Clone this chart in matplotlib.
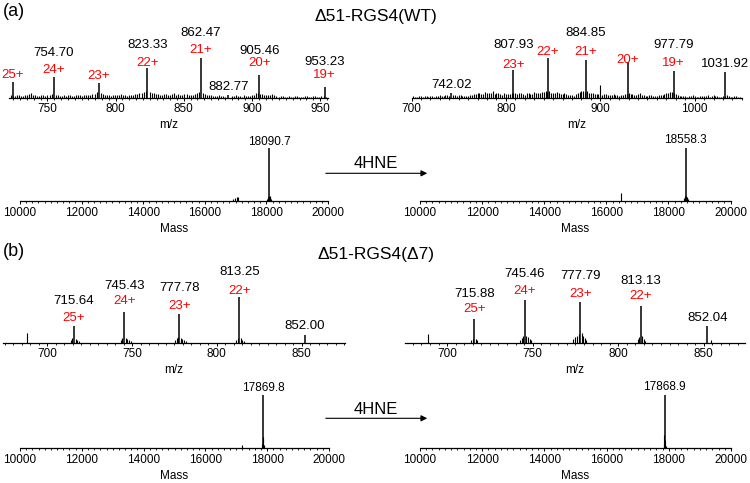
import matplotlib.pyplot as plt
from matplotlib.patches import FancyArrowPatch
from matplotlib.ticker import MultipleLocator

plt.rcParams['font.family'] = ['Liberation Sans', 'DejaVu Sans']

W, H = 750, 483

# (a) WT, ESI m/z spectrum
wt_mz = [724.6, 754.70, 787.5, 823.33, 862.47, 882.77, 905.46, 953.23]
wt_int = [39, 52, 38, 76, 100, 8, 58, 28]
wt_num = ['', '754.70', '', '823.33', '862.47', '882.77', '905.46', '953.23']
wt_chg = ['25+', '24+', '23+', '22+', '21+', '', '20+', '19+']
wt_noise = [(723, 6), (726, 5), (729, 7), (732, 5), (735, 8), (738, 12), (741, 6), (744, 5),
            (747, 7), (750, 6), (753, 9), (756, 8), (759, 5), (762, 6), (765, 7), (768, 5),
            (771, 6), (774, 8), (777, 6), (780, 7), (783, 9), (786, 14), (789, 11), (792, 7),
            (795, 6), (798, 8), (801, 7), (804, 9), (807, 6), (810, 8), (813, 7), (816, 10),
            (819, 13), (822, 16), (825, 14), (828, 11), (831, 9), (834, 8), (837, 10), (840, 7),
            (843, 12), (846, 9), (849, 8), (852, 10), (855, 7), (858, 9), (861, 14), (864, 12),
            (867, 7), (870, 6), (873, 5), (876, 6), (879, 5), (885, 5), (888, 6), (891, 4),
            (894, 7), (897, 5), (900, 6), (903, 12), (906, 10), (909, 8), (912, 6), (915, 9),
            (918, 5), (921, 4), (924, 3), (927, 4), (930, 3), (933, 5), (936, 3), (939, 4),
            (942, 3), (945, 5), (948, 3), (951, 4), (954, 3)]
wt_noise2 = [(724.5, 4), (727.5, 6), (730.5, 4), (733.5, 6), (736.5, 9), (739.5, 7), (742.5, 4),
             (745.5, 6), (748.5, 5), (751.5, 7), (757.5, 6), (760.5, 4), (763.5, 5), (766.5, 6),
             (769.5, 4), (772.5, 7), (775.5, 5), (778.5, 6), (781.5, 8), (784.5, 10), (790.5, 9),
             (793.5, 6), (796.5, 5), (799.5, 7), (802.5, 6), (805.5, 8), (808.5, 5), (811.5, 7),
             (814.5, 9), (817.5, 11), (820.5, 14), (826.5, 12), (829.5, 10), (832.5, 7),
             (835.5, 9), (838.5, 8), (841.5, 10), (844.5, 8), (847.5, 7), (850.5, 9), (853.5, 8),
             (856.5, 6), (859.5, 11), (865.5, 9), (868.5, 6), (871.5, 5), (874.5, 4), (877.5, 5),
             (880.5, 3), (886.5, 4), (889.5, 5), (892.5, 3), (895.5, 5), (898.5, 4), (901.5, 8),
             (904.5, 11), (907.5, 9), (910.5, 6), (913.5, 7), (916.5, 6), (919.5, 3), (922.5, 4),
             (925.5, 3), (928.5, 3), (931.5, 4), (934.5, 3), (937.5, 3), (940.5, 4), (943.5, 3),
             (946.5, 4), (949.5, 3), (952.5, 5)]

# (a) WT + 4HNE, m/z
wth_mz = [742.02, 807.93, 844.6, 884.85, 929.0, 977.79, 1031.92]
wth_int = [13, 70, 100, 96, 91, 68, 66]
wth_num = ['742.02', '807.93', '', '884.85', '', '977.79', '1031.92']
wth_chg = ['', '23+', '22+', '21+', '20+', '19+', '']
wth_noise = [(702, 4), (706, 3), (710, 5), (714, 4), (718, 3), (722, 5), (726, 4), (730, 6),
             (734, 5), (738, 7), (746, 6), (750, 8), (754, 5), (758, 4), (762, 7), (766, 9),
             (770, 12), (774, 10), (778, 14), (782, 11), (786, 16), (790, 13), (794, 9),
             (798, 11), (802, 10), (806, 12), (810, 11), (814, 13), (818, 9), (822, 12),
             (826, 10), (830, 14), (834, 12), (838, 15), (842, 18), (846, 16), (850, 12),
             (854, 14), (858, 10), (862, 13), (866, 8), (870, 6), (874, 9), (878, 14),
             (882, 18), (886, 16), (890, 12), (894, 10), (898, 9), (899.7, 32), (902, 8),
             (906, 10), (910, 7), (914, 9), (918, 6), (922, 8), (926, 10), (930, 12), (934, 9),
             (938, 7), (942, 11), (946, 6), (950, 5), (954, 7), (958, 5), (962, 6), (966, 8),
             (970, 12), (974, 15), (978, 13), (982, 6), (986, 4), (990, 5), (994, 4), (998, 6),
             (1002, 3), (1006, 5), (1010, 4), (1014, 7), (1018, 4), (1022, 5), (1026, 3),
             (1030, 5), (1034, 6), (1038, 3), (1042, 4), (1046, 3)]
wth_noise2 = [(704, 3), (708, 4), (712, 3), (716, 5), (720, 4), (724, 3), (728, 5), (732, 4),
              (736, 6), (740, 5), (744, 7), (748, 5), (752, 6), (756, 4), (760, 5), (764, 8),
              (768, 10), (772, 11), (776, 9), (780, 13), (784, 12), (788, 10), (792, 12),
              (796, 8), (800, 10), (804, 9), (808, 11), (812, 10), (816, 12), (820, 8),
              (824, 11), (828, 9), (832, 12), (836, 13), (840, 14), (844, 15), (848, 13),
              (852, 11), (856, 12), (860, 9), (864, 10), (868, 7), (872, 5), (876, 11),
              (880, 16), (884, 15), (888, 13), (892, 11), (896, 9), (900, 7), (904, 9),
              (908, 8), (912, 6), (916, 8), (920, 5), (924, 7), (928, 9), (932, 10), (936, 8),
              (940, 9), (944, 7), (948, 5), (952, 6), (956, 4), (960, 5), (964, 7), (968, 9),
              (972, 13), (976, 14), (980, 9), (984, 5), (988, 4), (992, 3), (996, 5),
              (1000, 4), (1004, 3), (1008, 4), (1012, 5), (1016, 3), (1020, 6), (1024, 4),
              (1028, 3), (1032, 4), (1036, 5), (1040, 3), (1044, 4), (1048, 3)]

# (a) deconvoluted masses
wtm_mass = [18090.7]
wtm_int = [100]
wtm_num = ['18090.7']
wtm_minor = [(16930, 3), (16980, 5), (17030, 7), (17080, 8),
             (18030, 3), (18050, 5), (18065, 7), (18078, 9), (18103, 9), (18116, 7),
             (18130, 5), (18150, 3)]
wthm_mass = [18558.3]
wthm_int = [100]
wthm_num = ['18558.3']
wthm_minor = [(16484, 15), (18498, 3), (18518, 5), (18533, 7), (18546, 9), (18571, 9),
              (18584, 7), (18598, 5), (18618, 3)]

# (b) Δ7, m/z
d7_mz = [715.64, 745.43, 777.78, 813.25, 852.00]
d7_int = [37, 68, 62, 100, 17]
d7_num = ['715.64', '745.43', '777.78', '813.25', '852.00']
d7_chg = ['25+', '24+', '23+', '22+', '']
d7_noise = [(687.7, 21), (713.8, 6), (714.6, 9), (716.6, 8), (717.4, 6), (718.4, 4),
            (743.2, 5), (744.2, 9), (746.3, 11), (747.2, 8), (748.3, 6), (749.4, 4),
            (775.3, 6), (776.2, 10), (777.0, 12), (778.8, 11), (779.6, 8), (780.6, 5),
            (781.6, 3), (811.2, 5), (812.2, 9), (814.2, 10), (815.1, 6), (816.1, 4)]

# (b) Δ7 + 4HNE, m/z
d7h_mz = [715.88, 745.46, 777.79, 813.13, 852.04]
d7h_int = [54, 100, 95, 85, 38]
d7h_num = ['715.88', '745.46', '777.79', '813.13', '852.04']
d7h_chg = ['25+', '24+', '23+', '22+', '']
d7h_noise = [(688.7, 19), (714.2, 6), (715.0, 9), (716.8, 8), (717.6, 5), (742.6, 6),
             (743.8, 10), (744.6, 14), (746.4, 16), (747.2, 12), (748.2, 9), (749.2, 6),
             (773.8, 7), (775.0, 12), (776.2, 16), (777.0, 20), (778.6, 21), (779.4, 16),
             (780.4, 10), (781.4, 5), (811.4, 8), (812.2, 12), (814.0, 14), (814.8, 8),
             (815.8, 4), (854.5, 5)]

# (b) deconvoluted masses
d7m_mass = [17869.8]
d7m_int = [100]
d7m_num = ['17869.8']
d7m_minor = [(17174, 6), (17830, 8), (17850, 22), (17880, 18), (17900, 6)]
d7hm_mass = [17868.9]
d7hm_int = [100]
d7hm_num = ['17868.9']
d7hm_minor = [(17830, 8), (17850, 25), (17880, 15), (17900, 5)]

fig = plt.figure(figsize=(W / 100, H / 100), dpi=100)


def make_ax(left, right, base, tallest, xlim, major, minor, xlabel):
    h = 60
    ax = fig.add_axes([left / W, 1 - base / H, (right - left) / W, h / H])
    ax.patch.set_alpha(0)
    ax.set_xlim(xlim)
    ax.set_ylim(0, 100 * h / tallest)
    for s in ['left', 'right', 'top']:
        ax.spines[s].set_visible(False)
    ax.spines['bottom'].set_linewidth(0.9)
    ax.set_yticks([])
    ax.xaxis.set_major_locator(MultipleLocator(major))
    ax.xaxis.set_minor_locator(MultipleLocator(minor))
    ax.tick_params(axis='x', which='major', length=2.5, width=0.7, pad=1.5, labelsize=8.5)
    ax.tick_params(axis='x', which='minor', length=1.5, width=0.6)
    ax.set_xlabel(xlabel, fontsize=8.5, labelpad=3)
    return ax


def draw(ax, mz, inten, *noise_lists):
    for noise in noise_lists:
        nx = [p[0] for p in noise]
        ny = [p[1] for p in noise]
        ax.vlines(nx, 0, ny, color='black', lw=0.8)
    ax.vlines(mz, 0, inten, color='black', lw=1.1)


def label(ax, mz, inten, nums, chgs, chg_gap, num_gap, size=9.5):
    # gaps are pixel distances of the text centres above the peak top
    for i in range(len(mz)):
        y_chg = chg_gap[i]
        if chgs[i]:
            ax.annotate(chgs[i], (mz[i], inten[i]), xytext=(0, y_chg * 0.72),
                        textcoords='offset points', ha='center', va='center',
                        color='#ff0000', fontsize=size)
            y_num = y_chg + num_gap[i]
        else:
            y_num = num_gap[i]
        if nums[i]:
            ax.annotate(nums[i], (mz[i], inten[i]), xytext=(0, y_num * 0.72),
                        textcoords='offset points', ha='center', va='center',
                        color='black', fontsize=size)


# panel (a)
ax1 = make_ax(9.3, 328.3, 97.7, 39.3, (722, 956), 50, 5, 'm/z')
draw(ax1, wt_mz, wt_int, wt_noise, wt_noise2)
label(ax1, wt_mz, wt_int, wt_num, wt_chg,
      [7.4, 7.4, 6.7, 5, 8.3, 0, 12, 11.7], [0, 17, 0, 17.7, 17, 7.7, 11.7, 13.3])

ax2 = make_ax(411.5, 741.9, 97.7, 39.4, (700, 1050), 100, 10, 'm/z')
draw(ax2, wth_mz, wth_int, wth_noise, wth_noise2)
label(ax2, wth_mz, wth_int, wth_num, wth_chg,
      [0, 5.5, 6.3, 8, 2, 7.7, 0], [7.7, 20, 0, 19, 0, 18, 7.7])

ax3 = make_ax(20, 328, 201, 52.7, (10000, 20000), 2000, 200, 'Mass')
draw(ax3, wtm_mass, wtm_int, wtm_minor)
label(ax3, wtm_mass, wtm_int, wtm_num, [''], [0], [6.3], size=8.5)

ax4 = make_ax(420, 730.5, 201, 52.7, (10000, 20000), 2000, 200, 'Mass')
draw(ax4, wthm_mass, wthm_int, wthm_minor)
label(ax4, wthm_mass, wthm_int, wthm_num, [''], [0], [8.3], size=8.5)

# panel (b)
ax5 = make_ax(3.3, 345, 342.5, 45.3, (674, 875.6), 50, 5, 'm/z')
draw(ax5, d7_mz, d7_int, d7_noise)
label(ax5, d7_mz, d7_int, d7_num, d7_chg,
      [8, 10.7, 8.5, 6.3, 0], [17, 15, 18, 19, 9])

ax6 = make_ax(405, 745, 342.5, 43, (675.4, 874.1), 50, 5, 'm/z')
draw(ax6, d7h_mz, d7h_int, d7h_noise)
label(ax6, d7h_mz, d7h_int, d7h_num, d7h_chg,
      [10.2, 8.5, 7.8, 9.8, 0], [15, 17, 18, 15, 8.2])

ax7 = make_ax(20, 329, 448.3, 53.3, (10000, 20000), 2000, 200, 'Mass')
draw(ax7, d7m_mass, d7m_int, d7m_minor)
label(ax7, d7m_mass, d7m_int, d7m_num, [''], [0], [7], size=8.5)

ax8 = make_ax(420, 731, 448.3, 53.3, (10000, 20000), 2000, 200, 'Mass')
draw(ax8, d7hm_mass, d7hm_int, d7hm_minor)
label(ax8, d7hm_mass, d7hm_int, d7hm_num, [''], [0], [8], size=8.5)

# titles, panel letters, arrows
fig.text(375.5 / W, 1 - 17 / H, 'Δ51-RGS4(WT)', ha='center', va='center', fontsize=12.5)
fig.text(376 / W, 1 - 254 / H, 'Δ51-RGS4(Δ7)', ha='center', va='center', fontsize=12.5)
fig.text(3 / W, 1 - 11 / H, '(a)', ha='left', va='center', fontsize=13)
fig.text(3 / W, 1 - 252 / H, '(b)', ha='left', va='center', fontsize=13)

for ya, yt in [(173.3, 164), (418.3, 409)]:
    fig.add_artist(FancyArrowPatch((323 / W, 1 - ya / H), (430 / W, 1 - ya / H),
                                   transform=fig.transFigure, arrowstyle='-|>',
                                   mutation_scale=9, lw=0.8, color='black'))
    fig.text(375.5 / W, 1 - yt / H, '4HNE', ha='center', va='center', fontsize=12)

fig.savefig('out.png', dpi=100)
